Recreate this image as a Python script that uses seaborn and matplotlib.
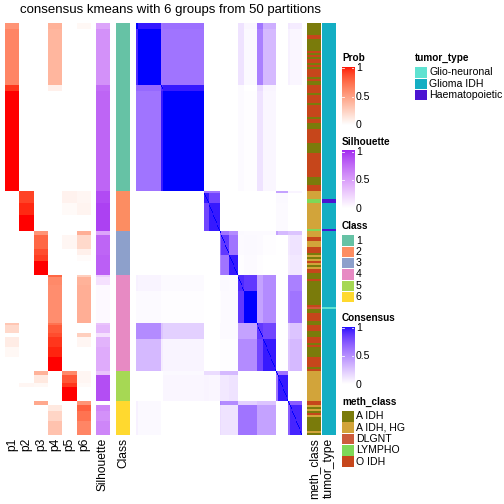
import numpy as np
import pandas as pd
import matplotlib
matplotlib.use("Agg")
import matplotlib.pyplot as plt
from matplotlib.colors import ListedColormap, to_rgb
import seaborn as sns

W, H = 504, 504

# ---- data (rows are samples, ordered as in the picture) ----
class_labels = ["1", "2", "3", "4", "5", "6"]
class_sizes = [84, 20, 22, 48, 15, 17]
class_colors = ["#66C2A5", "#FC8D62", "#8DA0CB", "#E78AC3", "#A6D854", "#FFD92F"]

# membership probabilities / silhouette, per run of similar samples
seg_rows = [3, 28, 3, 50, 6, 6, 8, 2, 7, 3, 3, 7, 1, 4, 19, 1, 4, 2, 5, 5, 7, 2, 4, 2, 7, 2, 3, 5, 7]
p1 = [.55, .62, .92, 1, 0, 0, 0, 0, 0, 0, 0, 0, 0, 0, 0, .3, .2, 0, .1, .04, 0, 0, 0, 0, 0, 0, 0, 0, 0]
p2 = [0, 0, 0, 0, .88, .95, 1, 0, 0, 0, 0, 0, 0, 0, 0, 0, 0, 0, 0, 0, 0, 0, 0, .05, 0, 0, 0, 0, 0]
p3 = [0, 0, 0, 0, 0, 0, 0, .55, .75, .85, .9, 1, 0, 0, 0, 0, 0, 0, 0, 0, 0, .4, .12, .04, 0, .45, 0, 0, 0]
p4 = [.4, .38, .08, 0, 0, 0, 0, 0, 0, 0, 0, 0, .75, .6, .58, .7, .8, .85, .92, .96, 1, 0, 0, 0, 0, 0, .12, .22, .32]
p5 = [0, 0, 0, 0, .07, .03, 0, 0, .05, 0, 0, 0, 0, 0, 0, 0, 0, 0, 0, 0, 0, .6, .82, .92, 1, 0, 0, 0, 0]
p6 = [.04, 0, 0, 0, .05, .06, 0, .42, .2, .08, .02, 0, .25, .4, .42, 0, 0, .25, .05, 0, 0, .05, .05, .03, 0, .55, .78, .7, .62]
silhouette = [.45, .55, .72, .75, .86, .9, .9, .45, .75, .75, .78, .78, .25, .15, .03, .3, .35, .15, .38, .42, .42,
              .3, .85, .85, .85, 0, .6, .55, .6]

# consensus matrix, given block by block
cons_rows = [3, 28, 3, 50, 1, 5, 14, 2, 10, 10, 8, 16, 8, 16, 2, 13, 2, 15]
cons_blocks = [
    [1.0, .95, .6, .62, 0, 0, 0, 0, 0, 0, .12, .04, .6, .35, 0, 0, .1, .08],
    [.9, 1.0, .6, .6, 0, 0, 0, 0, 0, 0, .12, .03, .55, .3, 0, 0, .06, .04],
    [.65, .65, .9, .95, 0, 0, 0, 0, 0, 0, .02, 0, .15, .05, 0, 0, 0, 0],
    [.6, .6, .95, 1.0, 0, 0, 0, 0, 0, 0, .02, .01, .12, .04, 0, 0, 0, 0],
    [0, 0, 0, 0, .7, .6, .6, 0, 0, 0, 0, 0, 0, 0, .4, .4, .05, .05],
    [0, 0, 0, 0, .6, .95, .8, 0, 0, 0, 0, 0, 0, 0, .03, .03, 0, 0],
    [0, 0, 0, 0, .6, .8, .95, 0, 0, 0, 0, 0, 0, 0, .02, .02, 0, 0],
    [0, 0, 0, 0, 0, 0, 0, .7, .6, .5, .03, .02, .02, .02, .4, .3, .25, .25],
    [0, 0, 0, 0, 0, 0, 0, .6, .85, .6, .02, .03, .02, .01, 0, 0, .1, .12],
    [0, 0, 0, 0, 0, 0, 0, .5, .6, .95, .01, .02, .01, 0, 0, 0, .08, .1],
    [.06, .05, .02, .02, 0, 0, 0, .03, .03, .02, .9, .85, .4, .5, 0, 0, .55, .55],
    [.02, .02, .01, .01, 0, 0, 0, .01, .02, .02, .85, 1.0, .4, .5, 0, 0, .55, .6],
    [.5, .5, .25, .2, 0, 0, 0, .02, .02, .02, .4, .4, .85, .8, 0, 0, .2, .25],
    [.3, .3, .08, .05, 0, 0, 0, .01, .01, .01, .5, .5, .8, .95, 0, 0, .25, .3],
    [0, 0, 0, .03, .3, .15, .15, .3, .3, .3, 0, 0, 0, 0, .7, .6, 0, 0],
    [0, 0, 0, .04, .1, .05, .04, .1, .1, .12, 0, 0, 0, 0, .6, .95, 0, 0],
    [.06, .03, 0, 0, 0, 0, 0, .55, .5, .5, .2, .2, .25, .25, 0, 0, .8, .7],
    [.06, .03, 0, 0, 0, 0, 0, .15, .12, .12, .6, .6, .4, .4, 0, 0, .7, .92],
]

meth_levels = ["A IDH", "A IDH, HG", "DLGNT", "LYMPHO", "O IDH"]
meth_colors = ["#7A7B0B", "#D2A43A", "#CC5C3C", "#7ED858", "#C6461B"]
meth_runs = [
    ("A IDH", 6), ("O IDH", 2), ("A IDH", 6), ("O IDH", 1), ("A IDH", 1), ("O IDH", 1), ("A IDH", 1),
    ("O IDH", 2), ("A IDH", 1), ("O IDH", 1), ("A IDH", 1), ("O IDH", 4), ("A IDH", 1), ("O IDH", 1),
    ("A IDH", 2), ("O IDH", 4), ("A IDH", 1), ("O IDH", 4), ("A IDH", 1), ("O IDH", 6), ("A IDH", 1),
    ("O IDH", 2), ("A IDH", 3), ("O IDH", 7), ("A IDH", 5), ("O IDH", 12), ("A IDH", 4), ("O IDH", 3),
    ("A IDH, HG", 4), ("LYMPHO", 2), ("A IDH, HG", 13), ("LYMPHO", 1),
    ("A IDH, HG", 3), ("O IDH", 2), ("A IDH, HG", 3), ("O IDH", 3), ("A IDH", 1), ("A IDH, HG", 1),
    ("A IDH", 1), ("A IDH, HG", 1), ("O IDH", 1), ("A IDH, HG", 1), ("A IDH", 1), ("A IDH, HG", 1),
    ("O IDH", 2), ("A IDH", 1),
    ("A IDH", 2), ("O IDH", 1), ("A IDH", 12), ("O IDH", 1), ("DLGNT", 1), ("A IDH", 2), ("O IDH", 4),
    ("A IDH", 2), ("O IDH", 3), ("A IDH", 3), ("O IDH", 3), ("A IDH", 1), ("O IDH", 1), ("A IDH", 5),
    ("O IDH", 5), ("A IDH", 1), ("O IDH", 1),
    ("A IDH, HG", 15),
    ("O IDH", 2), ("A IDH, HG", 1), ("A IDH", 1), ("A IDH, HG", 1), ("A IDH", 1), ("O IDH", 1),
    ("A IDH, HG", 1), ("A IDH", 7), ("A IDH, HG", 1), ("A IDH", 1),
]

tumor_levels = ["Glio-neuronal", "Glioma IDH", "Haematopoietic"]
tumor_colors = ["#5FE2D1", "#14AEC3", "#4B14D2"]
tumor_runs = [("Glioma IDH", 88), ("Haematopoietic", 2), ("Glioma IDH", 13), ("Haematopoietic", 1),
              ("Glioma IDH", 38), ("Glio-neuronal", 1), ("Glioma IDH", 63)]


# ---- colour ramps interpolated in LAB like ComplexHeatmap ----
M_RGB2XYZ = np.array([[0.4124, 0.3576, 0.1805], [0.2126, 0.7152, 0.0722], [0.0193, 0.1192, 0.9505]])
WHITE_PT = np.array([0.95047, 1.0, 1.08883])


def srgb_to_lab(rgb):
    rgb = np.asarray(rgb, float)
    lin = np.where(rgb <= 0.04045, rgb / 12.92, ((rgb + 0.055) / 1.055) ** 2.4)
    xyz = M_RGB2XYZ @ lin / WHITE_PT
    f = np.where(xyz > 0.008856, np.cbrt(xyz), 7.787 * xyz + 16 / 116)
    return np.array([116 * f[1] - 16, 500 * (f[0] - f[1]), 200 * (f[1] - f[2])])


def lab_to_srgb(lab):
    L, a, b = lab
    fy = (L + 16) / 116
    f = np.array([fy + a / 500, fy, fy - b / 200])
    xyz = np.where(f ** 3 > 0.008856, f ** 3, (f - 16 / 116) / 7.787) * WHITE_PT
    lin = np.clip(np.linalg.inv(M_RGB2XYZ) @ xyz, 0, 1)
    return np.where(lin <= 0.0031308, 12.92 * lin, 1.055 * lin ** (1 / 2.4) - 0.055)


def lab_cmap(color):
    lo, hi = srgb_to_lab(to_rgb("white")), srgb_to_lab(to_rgb(color))
    return ListedColormap([np.clip(lab_to_srgb(lo + t * (hi - lo)), 0, 1) for t in np.linspace(0, 1, 256)])


prob_cmap = lab_cmap("red")
sil_cmap = lab_cmap("#A020F0")
cons_cmap = lab_cmap("blue")

# ---- expand runs to samples ----
prob_df = pd.DataFrame({name: np.repeat(vals, seg_rows)
                        for name, vals in zip(["p1", "p2", "p3", "p4", "p5", "p6"], [p1, p2, p3, p4, p5, p6])})
sil = np.repeat(silhouette, seg_rows)
cls = np.repeat(np.arange(len(class_sizes)), class_sizes)
idx = np.repeat(np.arange(len(cons_rows)), cons_rows)
cons = np.array(cons_blocks)[np.ix_(idx, idx)]
np.fill_diagonal(cons, 1.0)
meth = np.concatenate([[meth_levels.index(m)] * n for m, n in meth_runs])
tumor = np.concatenate([[tumor_levels.index(t)] * n for t, n in tumor_runs])

plt.rcParams['font.family'] = ['Liberation Sans', 'DejaVu Sans']
fig = plt.figure(figsize=(W / 72, H / 72), dpi=72)


def ax_px(x0, y0, x1, y1):
    return fig.add_axes([x0 / W, 1 - y1 / H, (x1 - x0) / W, (y1 - y0) / H])


def fx(x):
    return x / W


def fy(y):
    return 1 - y / H


TOP, BOT = 23, 435
kw = dict(cbar=False, xticklabels=False, yticklabels=False)

sns.heatmap(prob_df, ax=ax_px(5, TOP, 91, BOT), cmap=prob_cmap, vmin=0, vmax=1, **kw)
sns.heatmap(sil[:, None], ax=ax_px(96, TOP, 110, BOT), cmap=sil_cmap, vmin=0, vmax=1, **kw)
sns.heatmap(cls[:, None], ax=ax_px(116, TOP, 130, BOT), cmap=ListedColormap(class_colors),
            vmin=-0.5, vmax=5.5, **kw)
sns.heatmap(cons, ax=ax_px(136, TOP, 302, BOT), cmap=cons_cmap, vmin=0, vmax=1, **kw)
sns.heatmap(meth[:, None], ax=ax_px(307, TOP, 321, BOT), cmap=ListedColormap(meth_colors),
            vmin=-0.5, vmax=4.5, **kw)
sns.heatmap(tumor[:, None], ax=ax_px(322, TOP, 336, BOT), cmap=ListedColormap(tumor_colors),
            vmin=-0.5, vmax=2.5, **kw)

# column labels
col_names = ["p1", "p2", "p3", "p4", "p5", "p6", "Silhouette", "Class", "meth_class", "tumor_type"]
col_x = [5 + 86 / 12 * (2 * i + 1) for i in range(6)] + [103, 123, 314, 329]
for name, x in zip(col_names, col_x):
    fig.text(fx(x), fy(438), name, rotation=90, ha="center", va="top", fontsize=12)

fig.text(fx(170.5), fy(10), "consensus kmeans with 6 groups from 50 partitions",
         ha="center", va="center", fontsize=13.2)


# ---- legends ----
def color_legend(title, cmap, y_title, y1, y0):
    fig.text(fx(342), fy(y_title), title, fontweight="bold", fontsize=10, ha="left", va="center")
    cax = ax_px(342, y1 - 1.5, 354, y0)
    top = 1 + 1.5 / (y0 - y1)
    cax.imshow(np.linspace(1, 0, 200)[:, None], cmap=cmap, vmin=0, vmax=1, aspect="auto",
               extent=[0, 1, 0, top], interpolation="bilinear")
    cax.set_xlim(0, 1)
    cax.set_ylim(0, top)
    cax.axis("off")
    for v, lab in [(1, "1"), (0.5, "0.5"), (0, "0")]:
        cax.plot([0, 0.2], [v, v], color="white", lw=0.8)
        cax.plot([0.8, 1], [v, v], color="white", lw=0.8)
        fig.text(fx(356), fy(y0 - v * (y0 - y1)), lab, fontsize=10.5, ha="left", va="center")


def discrete_legend(title, labels, colors, x, y_title, y_first):
    fig.text(fx(x), fy(y_title), title, fontweight="bold", fontsize=10, ha="left", va="center")
    for i, (lab, c) in enumerate(zip(labels, colors)):
        yc = y_first + i * 11.33
        fig.patches.append(plt.Rectangle((fx(x), fy(yc + 5.3)), 12 / W, 10.6 / H,
                                         transform=fig.transFigure, color=c, lw=0))
        fig.text(fx(x + 14), fy(yc), lab, fontsize=10.5, ha="left", va="center")


color_legend("Prob", prob_cmap, 58, 68.3, 125)
color_legend("Silhouette", sil_cmap, 142, 152, 208.5)
discrete_legend("Class", class_labels, class_colors, 342, 226, 240.5)
color_legend("Consensus", cons_cmap, 318, 328, 384.5)
discrete_legend("meth_class", meth_levels, meth_colors, 342, 402, 416.3)
discrete_legend("tumor_type", tumor_levels, tumor_colors, 415, 58, 72.5)

fig.savefig("out.png", dpi=72)
